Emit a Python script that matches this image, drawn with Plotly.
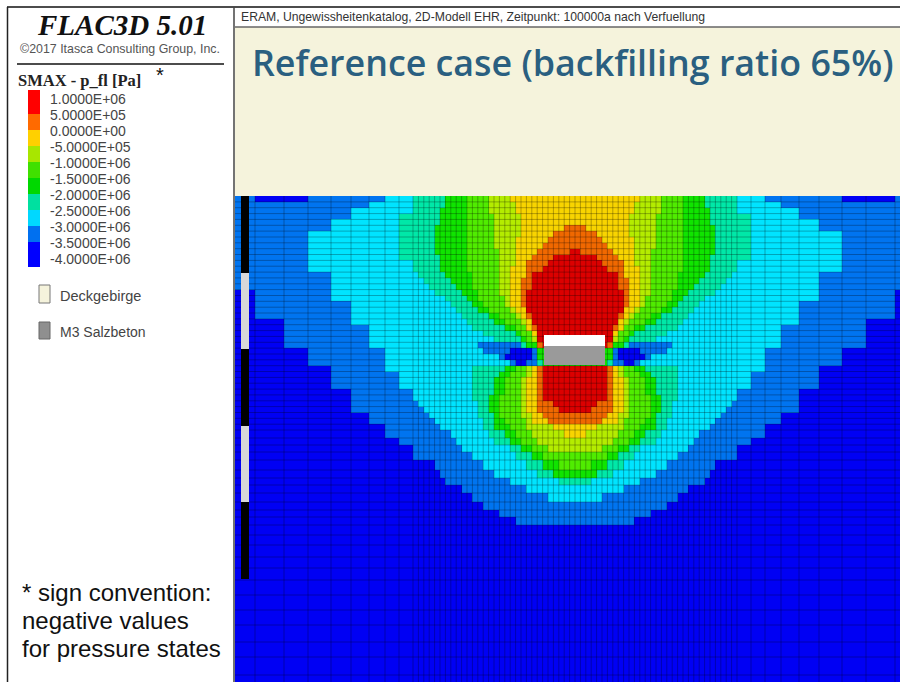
import plotly.graph_objects as go

# ---- contour classes (Pa): upper bound of each colour band, from the legend
legend_labels = ["1.0000E+06", "5.0000E+05", "0.0000E+00", "-5.0000E+05", "-1.0000E+06", "-1.5000E+06",
                 "-2.0000E+06", "-2.5000E+06", "-3.0000E+06", "-3.5000E+06", "-4.0000E+06"]
band_letters = ["a", "b", "c", "d", "e", "f", "g", "h", "i", "j"]
band_values = [750000, 250000, -250000, -750000, -1250000, -1750000, -2250000, -2750000, -3250000, -3750000]
band_colors = ["#ff0000", "#ff6a00", "#ffd000", "#a8e600", "#40e000", "#00d800", "#00e0a0", "#00d8ff", "#0070f0", "#0000ff"]
field_colors = ["#dc0000", "#f06800", "#f8d400", "#b4ec00", "#50ec00", "#10e400", "#00e8a8", "#00e4ff", "#0074f0", "#0000f4"]

# ---- mesh (left half; the model is mirrored about its shaft axis)
col_edges_coarse = [235, 255, 284, 308, 331, 351, 369, 385, 399, 413]
col_edges_fine = [418.4, 423.8, 429.2, 434.6, 440, 445.4, 450.8, 456.2, 461.6, 467, 472.4, 477.8, 483.2, 488.6, 494,
                  499.4, 504.8, 510.2, 515.6, 521, 526.4, 531.8, 537.2, 542.6, 548, 553.4, 558.8, 564.2, 569.6, 575]
axis_x = 575
row_edges = [196, 201.9, 207.7, 213.6, 219.4, 225.3, 231.1, 237, 242.8, 248.7, 254.5, 260.4, 266.2, 272.1, 277.9,
             283.8, 289.6, 295.5, 301.3, 307.2, 313, 318.9, 324.7, 330.6, 336.4, 342.3, 348.1, 354, 359.8, 365.7,
             371.5, 377.4, 383.2, 389.1, 394.9, 400.8, 406.6, 412.5, 418.3, 424.2, 430, 438, 445, 452, 460, 470,
             478, 485, 493, 502, 510, 517, 525, 535, 545, 557, 568, 580, 595, 610, 625, 642, 657, 675, 690]

# per mesh row: colour band + x at which that band ends, left to right
field_runs = [
    "i255 j308 i385 h413 g448 f468 e488 d510 c575",
    "i369 h413 g445 f466 e490 d513 c575",
    "i351 h413 g442 f465 e491 d516 c575",
    "i351 h399 g440 f465 e492 d519 c575",
    "i331 h399 g438 f465 e494 d522 c575",
    "i331 h399 g437 f465 e495 d522 c565 b575",
    "i308 h399 g437 f465 e495 d520 c556 b575",
    "i308 h399 g437 f465 e496 d518 c550 b575",
    "i308 h399 g437 f466 e496 d517 c544 b575",
    "i308 h399 g437 f466 e497 d516 c538 b570 a575",
    "i308 h399 g438 f466 e497 d515 c533 b556 a575",
    "i308 h413 g440 f467 e498 d513 c529 b548 a575",
    "i308 h413 g442 f468 e498 d512 c526 b540 a575",
    "i331 h418 g446 f470 e499 d511 c524 b534 a575",
    "i331 h425 g450 f472 e500 d510 c522 b531 a575",
    "i331 h431 g455 f474 e501 d510 c522 b530 a575",
    "j255 i331 h437 g461 f476 e502 d510 c522 b529 a575",
    "j255 i331 h443 g467 f480 e503 d510 c522 b528 a575",
    "j255 i351 h449 g473 f485 e505 d512 c522 b528 a575",
    "j255 i351 h455 g480 f491 e509 d515 c524 b529 a575",
    "j255 i351 h461 g487 f498 e514 d519 c527 b530 a575",
    "j284 i351 h467 g495 f506 e520 d525 c530 b533 a575",
    "j284 i369 h474 g503 f513 e525 d529 c533 b536 a575",
    "j284 i369 h482 g513 f522 e530 d534 c537 b539 a575",
    "j284 i369 h495 g520 f528 e533 d535 c537 a575",
    "j284 i369 h478 i520 g528 f535 b540 a575",
    "j308 i385 h482 i512 j530 i536 f575",
    "j308 i385 h497 i507 j530 i538 f575",
    "j308 i385 h510 i516 j528 i535 g540 f575",
    "j331 i385 h470 g505 f515 e525 d531 c537 b540 a575",
    "j331 i399 h470 g497 f510 e524 d530 c536 b540 a575",
    "j331 i399 h470 g494 f507 e523 d529 c535 b540 a575",
    "j331 i399 h471 g493 f505 e522 d528 c535 b541 a575",
    "j351 i413 h472 g492 f503 e522 d528 c535 b543 a575",
    "j351 i413 h474 g491 f502 e522 d528 c536 b545 a575",
    "j351 i420 h476 g491 f501 e522 d528 c537 b552 a575",
    "j351 i424 h478 g491 f501 e522 d529 c538 b560 a575",
    "j369 i429 h480 g492 f502 e523 d530 c541 b575",
    "j369 i433 h482 g493 f503 e525 d532 c546 b575",
    "j385 i442 h484 g496 f508 e526 d553 c575",
    "j385 i451 h488 g505 f518 e530 d562 c575",
    "j399 i456 h495 g512 f523 e535 d575",
    "j413 i463 h508 g522 f533 e548 d575",
    "j413 i470 h517 g530 f545 e575",
    "j432 i481 h524 g540 f558 e575",
    "j438 i493 h538 g555 f575",
    "j445 i508 h560 g575",
    "j460 i525 h575",
    "j470 i548 h575",
    "j485 i575",
    "j498 i575",
    "j515 i575",
    "j575", "j575", "j575", "j575", "j575", "j575", "j575", "j575", "j575", "j575", "j575", "j575",
]

# ---- excavation fill materials, shaft bar, legend strip
material_names = ["Deckgebirge", "M3 Salzbeton"]
material_colors = ["#f5f3dc", "#8f8f8f"]
shaft_segments = [(196, 273, "#000000"), (273, 349, "#d8d8d8"), (349, 426, "#000000"), (426, 502, "#d8d8d8"), (502, 579, "#000000")]
legend_edges = [90, 114, 130, 146, 162, 178, 194, 210, 226, 242, 267]
note_lines = ["* sign convention:", "negative values", "for pressure states"]

value_of = dict(zip(band_letters, band_values))
half_x = col_edges_coarse + col_edges_fine
centres = [(half_x[i] + half_x[i + 1]) / 2 for i in range(len(half_x) - 1)]


def row_values(spec):
    runs = [(r[0], float(r[1:])) for r in spec.split()]
    out = []
    for c in centres:
        for letter, end in runs:
            if c <= end:
                out.append(value_of[letter])
                break
    return out


z = []
for spec in field_runs:
    left = row_values(spec)
    z.append(left + left[::-1])

x_edges = half_x + [2 * axis_x - v for v in half_x[-2::-1]]

vmin, vmax = -4000000, 1000000


def stepped(colors):
    out = []
    n = len(colors)
    for i, c in enumerate(colors[::-1]):
        out.append([i / n, c])
        out.append([(i + 1) / n, c])
    return out


fig = go.Figure()
fig.add_trace(go.Heatmap(x=x_edges, y=row_edges, z=z, colorscale=stepped(field_colors), zmin=vmin, zmax=vmax,
                         showscale=False, hoverinfo="skip"))

# mesh lines
lx, ly = [], []
for v in x_edges[1:]:
    lx += [v, v, None]
    ly += [row_edges[0], row_edges[-1], None]
for v in row_edges[1:]:
    lx += [x_edges[0], x_edges[-1], None]
    ly += [v, v, None]
fig.add_trace(go.Scatter(x=lx, y=ly, mode="lines", line=dict(color="rgba(0,0,0,0.28)", width=1), hoverinfo="skip", showlegend=False))

# shaft bar
for y0, y1, col in shaft_segments:
    fig.add_trace(go.Scatter(x=[245, 245], y=[y0, y1], mode="lines", line=dict(color=col, width=8), hoverinfo="skip", showlegend=False))

# legend strip
fig.add_trace(go.Heatmap(x=[28, 40], y=legend_edges, z=[[v] for v in band_values], colorscale=stepped(band_colors),
                         zmin=vmin, zmax=vmax, showscale=False, hoverinfo="skip"))

shapes = [
    dict(type="rect", x0=235, x1=900, y0=27, y1=196, fillcolor="#f5f3dc", line_width=0, layer="below"),
    dict(type="rect", x0=544, x1=605, y0=335, y1=346, fillcolor="#ffffff", line_width=0),
    dict(type="rect", x0=544, x1=605, y0=346, y1=365, fillcolor="#9a9a9a", line_width=0),
    dict(type="rect", x0=39, x1=50, y0=285, y1=303, fillcolor=material_colors[0], line=dict(color="#777777", width=1)),
    dict(type="rect", x0=39, x1=50, y0=322, y1=339, fillcolor=material_colors[1], line=dict(color="#666666", width=1)),
    dict(type="line", x0=7, x1=900, y0=7, y1=7, line=dict(color="#111111", width=1.5)),
    dict(type="line", x0=7.5, x1=7.5, y0=7, y1=682, line=dict(color="#222222", width=1.5)),
    dict(type="line", x0=234, x1=234, y0=7, y1=682, line=dict(color="#444444", width=1.5)),
    dict(type="line", x0=235, x1=900, y0=27, y1=27, line=dict(color="#666666", width=1.5)),
    dict(type="line", x0=17, x1=224, y0=64, y1=64, line=dict(color="#111111", width=1.5)),
]

SANS = "Liberation Sans"
SERIF = "Liberation Serif"


def text(x, y, s, size, color="#222222", family=SANS, anchor="left", weight="normal"):
    fig.add_annotation(x=x, y=y, text=s, showarrow=False, xanchor=anchor, yanchor="middle", xref="x", yref="y",
                       font=dict(size=size, color=color, family=family, weight=weight), borderpad=0, borderwidth=0)


text(122, 24.5, "<b><i>FLAC3D 5.01</i></b>", 29, "#111111", SERIF, "center")
text(120, 49, "©2017 Itasca Consulting Group, Inc.", 12.4, "#555555", SANS, "center")
text(18, 80.5, "<b>SMAX - p_fl [Pa]</b>", 16.5, "#222222", SERIF)
text(156, 75, "*", 20, "#111111")
for i, lab in enumerate(legend_labels):
    text(50, 99 + 16 * i, lab, 14, "#444444")
text(60, 296, material_names[0], 14.5, "#444444")
text(60, 332, material_names[1], 14, "#444444")
for i, line in enumerate(note_lines):
    text(22, 592 + 28 * i, line, 24, "#111111")
text(241, 17, "ERAM, Ungewissheitenkatalog, 2D-Modell EHR, Zeitpunkt: 100000a nach Verfuellung", 12.2, "#333333")
text(252, 62, "Reference case (backfilling ratio 65%)", 35.8, "#2a5f80", "Open Sans", weight=600)

fig.update_xaxes(range=[0, 900], visible=False, fixedrange=True)
fig.update_yaxes(range=[682, 0], visible=False, fixedrange=True)
fig.update_layout(width=900, height=682, margin=dict(l=0, r=0, t=0, b=0), paper_bgcolor="white", plot_bgcolor="white",
                  showlegend=False, shapes=shapes)
fig.write_html("out.html", post_script="document.body.style.margin='0';document.body.style.overflow='hidden';",
               config={"displayModeBar": False})
